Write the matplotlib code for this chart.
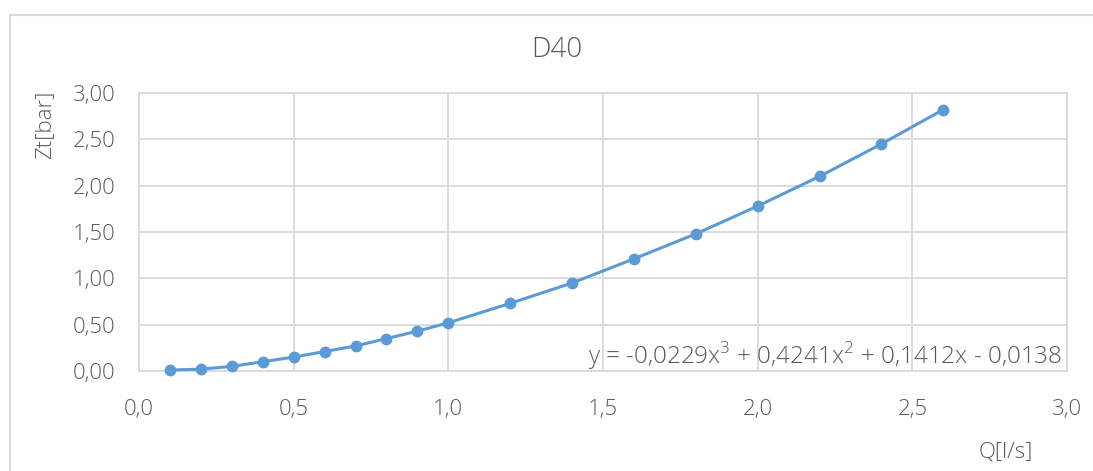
import matplotlib
matplotlib.use("Agg")
import matplotlib.pyplot as plt
from matplotlib.patches import Rectangle
from matplotlib.ticker import FuncFormatter, MultipleLocator

# Q [l/s] vs Zt [bar], D40
q = [0.1, 0.2, 0.3, 0.4, 0.5, 0.6, 0.7, 0.8, 0.9, 1.0, 1.2, 1.4, 1.6, 1.8, 2.0, 2.2, 2.4, 2.6]
zt = [0.01, 0.02, 0.05, 0.10, 0.15, 0.21, 0.27, 0.35, 0.43, 0.52, 0.73, 0.95, 1.21, 1.48, 1.78, 2.10, 2.45, 2.82]
title = "D40"
xlabel = "Q[l/s]"
ylabel = "Zt[bar]"
equation = "y = -0,0229x$^{3}$ + 0,4241x$^{2}$ + 0,1412x - 0,0138"

BLUE = "#5b9bd5"
GRAY = "#595959"
GRID = "#d9d9d9"

plt.rcParams["font.family"] = ["Open Sans", "DejaVu Sans"]
plt.rcParams["font.weight"] = "light"
plt.rcParams["mathtext.fontset"] = "custom"
plt.rcParams["mathtext.rm"] = "Open Sans:light"

fig = plt.figure(figsize=(10.93, 4.71), dpi=100)
fig.patches.append(Rectangle((10 / 1093, -0.1), 1.2, 1 - 15 / 471 + 0.1, transform=fig.transFigure,
                             fill=False, ec=GRID, lw=1.5, zorder=0))
ax = fig.add_axes([139 / 1093, 1 - 371 / 471, (1067 - 139) / 1093, (371 - 93) / 471])

ax.plot(q, zt, color=BLUE, lw=2.2, marker="o", ms=7.5, zorder=3, clip_on=False)

ax.set_xlim(0, 3.0); ax.set_ylim(0, 3.0)
ax.xaxis.set_major_locator(MultipleLocator(0.5))
ax.yaxis.set_major_locator(MultipleLocator(0.5))
ax.xaxis.set_major_formatter(FuncFormatter(lambda v, p: f"{v:.1f}".replace(".", ",")))
ax.yaxis.set_major_formatter(FuncFormatter(lambda v, p: f"{v:.2f}".replace(".", ",")))
ax.tick_params(length=0, labelsize=16, colors=GRAY)
ax.tick_params(axis="x", pad=20)
ax.tick_params(axis="y", pad=17)
ax.grid(color=GRID, lw=1.3)
ax.set_axisbelow(True)
for s in ax.spines.values():
    s.set_color(GRID); s.set_linewidth(1.3)

fig.text(557 / 1093, 1 - 50 / 471, title, ha="center", va="center", fontsize=20, color=GRAY)
fig.text(45 / 1093, 1 - 125 / 471, ylabel, ha="center", va="center", rotation=90, fontsize=16, color=GRAY)
fig.text(1006 / 1093, 1 - 452 / 471, xlabel, ha="center", va="center", fontsize=16, color=GRAY)
ax.text(0.995, 0.055, equation, transform=ax.transAxes, ha="right", va="center", fontsize=17.5, color=GRAY)

fig.savefig("out.png", dpi=100)
